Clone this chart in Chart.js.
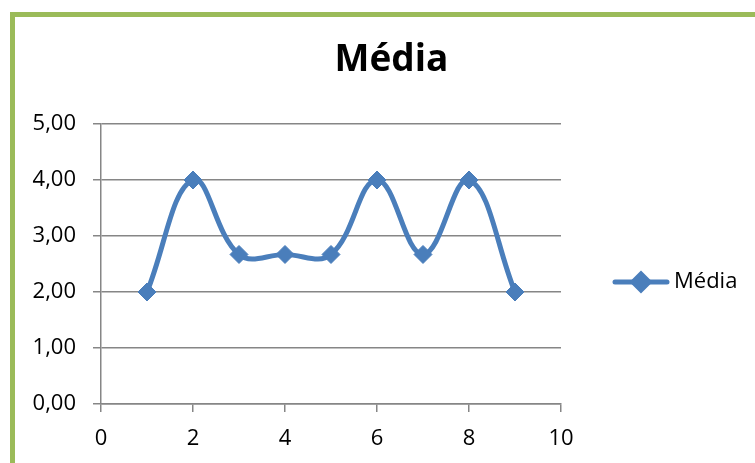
<!DOCTYPE html>
<html>
<head>
<meta charset="utf-8">
<script src="https://cdn.jsdelivr.net/npm/chart.js@4/dist/chart.umd.min.js"></script>
<style>
    html, body { margin: 0; padding: 0; background: #fff; }
    #wrap { position: relative; width: 755px; height: 463px; overflow: hidden; }
    #frame {
        position: absolute; left: 10px; top: 12px; width: 900px; height: 600px;
        border-left: 5px solid #9BBB59; border-top: 5px solid #9BBB59;
        pointer-events: none;
    }
    canvas { position: absolute; left: 0; top: 0; }
</style>
</head>
<body>
<div id="wrap">
    <canvas id="chart" width="755" height="463"></canvas>
    <div id="frame"></div>
</div>
<script>
// --- Data ---
const seriesName = 'Média';
const xValues = [1, 2, 3, 4, 5, 6, 7, 8, 9];
const yValues = [2, 4, 2.67, 2.67, 2.67, 4, 2.67, 4, 2];
const xTicks = [0, 2, 4, 6, 8, 10];
const yTicks = [0, 1, 2, 3, 4, 5];

const lineColor = '#4A7EBB';
const axisColor = '#868686';
const fontFamily = "'Open Sans', 'DejaVu Sans', sans-serif";

// decimal comma, two places (5,00)
const fmt = (v) => v.toFixed(2).replace('.', ',');

Chart.defaults.font.family = fontFamily;
Chart.defaults.color = '#000';

// Legend drawn to the right of the plot: line with a diamond, then the name
const sideLegend = {
    id: 'sideLegend',
    afterDraw(chart) {
        const ctx = chart.ctx;
        const y = 282;
        ctx.save();
        ctx.strokeStyle = lineColor;
        ctx.lineWidth = 5;
        ctx.lineCap = 'round';
        ctx.beginPath();
        ctx.moveTo(615, y);
        ctx.lineTo(667, y);
        ctx.stroke();
        Chart.helpers.drawPoint(ctx, { pointStyle: 'rectRot', radius: 8, borderWidth: 1 }, 641, y);
        ctx.fillStyle = lineColor;
        ctx.fill();
        ctx.fillStyle = '#000';
        ctx.font = '22px ' + fontFamily;
        ctx.textBaseline = 'middle';
        ctx.textAlign = 'left';
        ctx.fillText(seriesName, 674, y);
        ctx.restore();
    }
};

new Chart(document.getElementById('chart'), {
    type: 'scatter',
    data: {
        datasets: [{
            label: seriesName,
            data: xValues.map((x, i) => ({ x: x, y: yValues[i] })),
            showLine: true,
            tension: 0.4,
            borderColor: lineColor,
            backgroundColor: lineColor,
            borderWidth: 5,
            pointStyle: 'rectRot',
            pointRadius: 9,
            pointBorderWidth: 1,
            pointBorderColor: lineColor,
            pointBackgroundColor: lineColor,
            clip: false
        }]
    },
    options: {
        responsive: false,
        animation: false,
        layout: { padding: { left: 28, right: 0, top: 0, bottom: 0 } },
        plugins: {
            legend: { display: false },
            tooltip: { enabled: false },
            title: {
                display: true,
                text: seriesName,
                color: '#000',
                font: { size: 37, weight: 'bold' },
                padding: { top: 38, bottom: 41.6 }
            }
        },
        scales: {
            x: {
                type: 'linear',
                min: 0,
                max: 10,
                afterBuildTicks: (s) => { s.ticks = xTicks.map(v => ({ value: v })); },
                afterFit: (s) => { s.height = 59; },
                grid: { drawOnChartArea: false, drawTicks: true, tickLength: 8, color: axisColor, lineWidth: 1.5 },
                border: { color: axisColor, width: 1.5 },
                ticks: { font: { size: 22 }, padding: 14, maxRotation: 0 }
            },
            y: {
                min: 0,
                max: 5,
                afterBuildTicks: (s) => { s.ticks = yTicks.map(v => ({ value: v })); },
                afterFit: (s) => { s.width = 73; },
                grid: { drawOnChartArea: true, drawTicks: true, tickLength: 8, color: axisColor, lineWidth: 1.5 },
                border: { color: axisColor, width: 1.5 },
                ticks: { font: { size: 22 }, padding: 17, callback: (v) => fmt(v) }
            },
            // empty strip on the right that holds the legend
            legendSpace: {
                type: 'linear',
                position: 'right',
                min: 0,
                max: 1,
                afterFit: (s) => { s.width = 194; },
                grid: { display: false },
                border: { display: false },
                ticks: { display: false }
            }
        }
    },
    plugins: [sideLegend]
});
</script>
</body>
</html>
